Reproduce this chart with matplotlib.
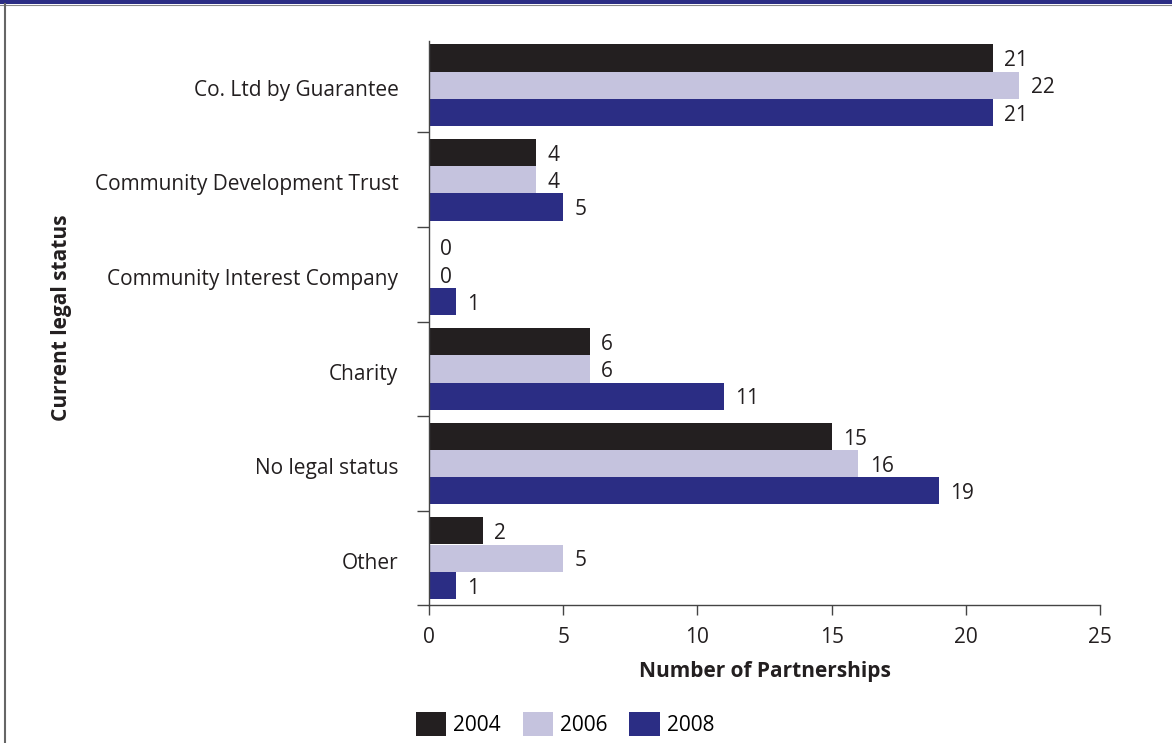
import matplotlib
matplotlib.use("Agg")
import matplotlib.pyplot as plt
from matplotlib.patches import Rectangle
from matplotlib.lines import Line2D
from matplotlib.transforms import ScaledTranslation

plt.rcParams['font.family'] = ['Open Sans', 'DejaVu Sans']

categories = ["Co. Ltd by Guarantee", "Community Development Trust",
              "Community Interest Company", "Charity", "No legal status", "Other"]
years = ["2004", "2006", "2008"]
values_2004 = [21, 4, 0, 6, 15, 2]
values_2006 = [22, 4, 0, 6, 16, 5]
values_2008 = [21, 5, 1, 11, 19, 1]
colors = ["#231f20", "#c5c3de", "#2b2d84"]
x_ticks = [0, 5, 10, 15, 20, 25]

W, H = 1172, 743
FS = 15
fig = plt.figure(figsize=(W / 100, H / 100), dpi=100)

# frame decoration: navy band on top, grey rule on the left
fig.add_artist(Rectangle((0, 1 - 4 / H), 1, 4 / H, transform=fig.transFigure,
                         facecolor="#2b2d84", edgecolor="none"))
fig.add_artist(Line2D([0, 1], [1 - 4.5 / H] * 2, transform=fig.transFigure,
                      color="#888888", lw=0.8))
fig.add_artist(Line2D([5 / W, 5 / W], [0, 1 - 4 / H], transform=fig.transFigure,
                      color="#666666", lw=1.5))

band = 94.6
ax_l, ax_r, ax_t, ax_b = 429, 1100, 41, 605.4
ax = fig.add_axes([ax_l / W, 1 - ax_b / H, (ax_r - ax_l) / W, (ax_b - ax_t) / H])

shift_down = ScaledTranslation(0, -2 / 72, fig.dpi_scale_trans)

bh = 27.2 / band
series = [values_2004, values_2006, values_2008]
for k, (vals, col, yr) in enumerate(zip(series, colors, years)):
    ys = [i + (k - 1) * bh for i in range(len(categories))]
    ax.barh(ys, vals, height=bh, color=col, label=yr, edgecolor="none")
    for y, v in zip(ys, vals):
        ax.text(v + 0.42, y, str(v), va="center", ha="left", fontsize=FS,
                color="#231f20", transform=ax.transData + shift_down)

ax.set_xlim(0, 25)
ax.set_ylim(5.5, 5.5 - (ax_b - ax_t) / band)
ax.set_xticks(x_ticks)
ax.set_yticks(range(len(categories)))
ax.set_yticklabels(categories)
ax.set_yticks([0.5, 1.5, 2.5, 3.5, 4.5, 5.5], minor=True)
ax.tick_params(axis="y", which="major", length=0, pad=22, labelsize=FS,
               labelcolor="#231f20")
ax.tick_params(axis="y", which="minor", length=8.6, width=1, color="#444444")
ax.tick_params(axis="x", length=7.2, width=1, color="#444444", pad=8,
               labelsize=FS, labelcolor="#231f20")
for lbl in ax.get_yticklabels():
    lbl.set_transform(lbl.get_transform() + shift_down)

for s in ["top", "right"]:
    ax.spines[s].set_visible(False)
for s in ["left", "bottom"]:
    ax.spines[s].set_color("#444444")
    ax.spines[s].set_linewidth(1)

ax.set_xlabel("Number of Partnerships", fontsize=FS, fontweight="bold",
              color="#231f20", labelpad=10)
fig.text(62 / W, 1 - 318 / H, "Current legal status", rotation=90, fontsize=FS,
         fontweight="bold", color="#231f20", ha="center", va="center")

fig.legend(loc="center", bbox_to_anchor=(565 / W, 1 - 724 / H), ncol=3,
           frameon=False, fontsize=FS, handlelength=1.45, handleheight=1.45,
           handletextpad=0.35, columnspacing=1.05, borderpad=0, borderaxespad=0)

fig.savefig("out.png", dpi=100)
